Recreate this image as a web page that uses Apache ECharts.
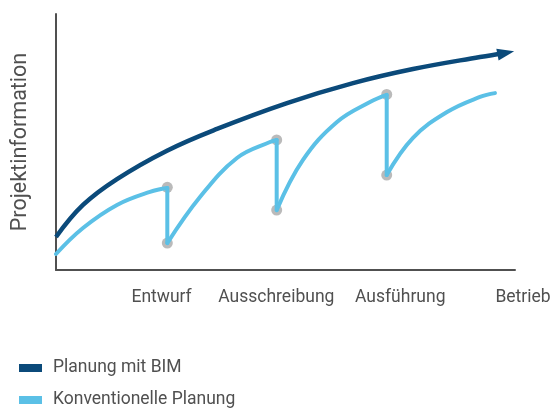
<!DOCTYPE html>
<html>
<head>
<meta charset="utf-8">
<script src="https://cdn.jsdelivr.net/npm/echarts@6/dist/echarts.min.js"></script>
<style>
html,body{margin:0;padding:0;background:#fff;}
#c{width:556px;height:410px;}
</style>
</head>
<body>
<div id="c"></div>
<script>
// ---- data ----
var seriesNames = ['Planung mit BIM', 'Konventionelle Planung'];
var yAxisTitle = 'Projektinformation';
var phaseLabels = ['Entwurf', 'Ausschreibung', 'Ausführung', 'Betrieb'];
var phasePositions = [23, 48, 75, 100];

var bimCurve = [
  [0, 12.9], [5.88, 25.4], [13.29, 35.5], [24.18, 46.6], [35.08, 55.1],
  [50.33, 65.2], [64.71, 73.0], [77.78, 78.5], [92.37, 83.2]
];
var bimArrowTip = [98.0, 84.8];

var convSeg1 = [[0, 6.25], [5.88, 16.4], [13.29, 25.4], [20.48, 30.5], [24.25, 32.0]];
var convSeg2 = [[24.25, 10.5], [31.37, 28.5], [39.43, 43.75], [46.62, 50.0], [48.08, 50.8]];
var convSeg3 = [[48.08, 23.4], [53.81, 43.0], [61.22, 57.8], [68.41, 65.6], [72.05, 68.4]];
var convSeg4 = [[72.05, 37.1], [77.78, 51.6], [85.19, 61.7], [92.37, 67.6], [95.64, 69.1]];
var convDrops = [[24.25, 32.0], [24.25, 10.5], null, [48.08, 50.8], [48.08, 23.4], null, [72.05, 68.4], [72.05, 37.1]];
var milestonePoints = [[24.25, 32.3], [24.25, 10.5], [48.08, 50.8], [48.08, 23.4], [72.05, 68.6], [72.05, 37.1]];

// ---- styles ----
var darkBlue = '#0b4a7a';
var lightBlue = '#5bc0e6';
var textColor = '#505050';
var fontFam = 'Roboto, "Noto Sans", sans-serif';

var labelMap = {};
phasePositions.forEach(function (p, i) { labelMap[p] = phaseLabels[i]; });

function convSeries(data, smooth) {
  return {
    type: 'line', name: seriesNames[1], data: data, smooth: smooth,
    symbol: 'none', connectNulls: false, z: 3,
    lineStyle: { color: lightBlue, width: 4, cap: 'round', join: 'round' },
    itemStyle: { color: lightBlue }
  };
}

var bimData = bimCurve.map(function (p) { return p; });
bimData.push({ value: bimArrowTip, symbol: 'triangle', symbolSize: [12, 17], symbolRotate: -79 });

var chart = echarts.init(document.getElementById('c'));
chart.setOption({
  animation: false,
  grid: { left: 56, right: 41, top: 14, bottom: 140 },
  xAxis: {
    type: 'value', min: 0, max: 100, interval: 1,
    axisLine: { show: true, lineStyle: { color: textColor, width: 2 } },
    axisTick: { show: false },
    splitLine: { show: false },
    axisLabel: {
      margin: 19, color: textColor, fontSize: 17.5, fontFamily: fontFam,
      formatter: function (v) {
        var k = Math.round(v);
        if (!labelMap[k]) return '';
        if (k === 100) return '{r|' + labelMap[k] + '}';
        return labelMap[k];
      },
      rich: { r: { color: textColor, fontSize: 17.5, fontFamily: fontFam, padding: [0, 0, 0, 16] } }
    }
  },
  yAxis: {
    type: 'value', min: 0, max: 100,
    name: yAxisTitle, nameLocation: 'middle', nameGap: 24,
    nameTextStyle: { color: textColor, fontSize: 21.5, fontFamily: fontFam },
    axisLine: { show: true, lineStyle: { color: textColor, width: 2 } },
    axisTick: { show: false }, axisLabel: { show: false }, splitLine: { show: false }
  },
  legend: {
    orient: 'vertical', left: 14, top: 354, height: 120,
    data: seriesNames,
    itemWidth: 23, itemHeight: 8, itemGap: 14,
    icon: 'rect',
    textStyle: { color: textColor, fontSize: 17.5, fontFamily: fontFam, padding: [0, 0, 0, 6] }
  },
  series: [
    {
      type: 'line', name: seriesNames[0], data: bimData, smooth: 0.4,
      symbol: 'none', showSymbol: true, z: 4,
      lineStyle: { color: darkBlue, width: 4.5 },
      itemStyle: { color: darkBlue }
    },
    convSeries(convSeg1, 0.4),
    convSeries(convSeg2, 0.4),
    convSeries(convSeg3, 0.4),
    convSeries(convSeg4, 0.4),
    convSeries(convDrops, false),
    {
      type: 'scatter', name: 'Meilensteine', data: milestonePoints,
      symbol: 'circle', symbolSize: 11, z: 2,
      itemStyle: { color: '#a9a9a9' }
    }
  ]
});
</script>
</body>
</html>
